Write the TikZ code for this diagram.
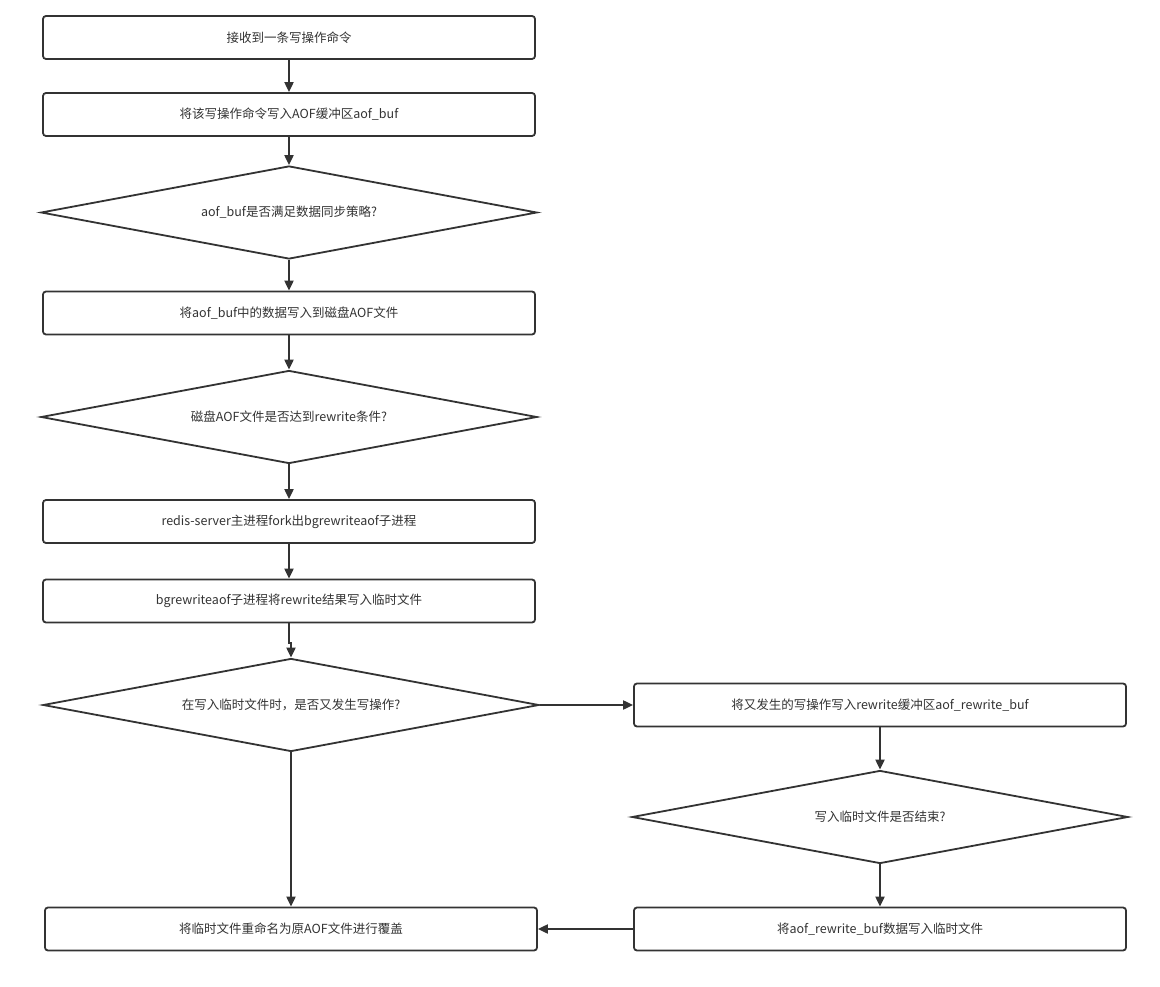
\documentclass[tikz,border=0pt]{standalone}
\usepackage{fontspec}
\setmainfont{Noto Sans CJK SC}
\usetikzlibrary{shapes.geometric,arrows.meta}
\definecolor{ln}{HTML}{333333}
\definecolor{tx}{HTML}{333333}
\tikzset{
  box/.style={draw=ln, line width=1.8pt, rounded corners=3pt, fill=white,
    minimum width=492pt, minimum height=43pt, inner sep=0pt, text=tx,
    font=\fontsize{12.5}{15}\selectfont},
  dia/.style={draw=ln, line width=1.8pt, diamond, shape aspect=5.33, fill=white,
    minimum width=496pt, minimum height=93pt, inner sep=0pt, text=tx,
    font=\fontsize{12.5}{15}\selectfont},
  arr/.style={draw=ln, line width=2pt, -{Triangle[length=10pt,width=9pt]}},
}
\begin{document}
\begin{tikzpicture}[x=1pt,y=-1pt]
\path[use as bounding box, fill=white] (0,0) rectangle (1160,987);
\node[box] (b1) at (289,37.5) {接收到一条写操作命令};
\node[box] (b2) at (289,114.5) {将该写操作命令写入AOF缓冲区aof\_buf};
\node[dia] (d1) at (289,212.5) {aof\_buf是否满足数据同步策略?};
\node[box] (b3) at (289,313) {将aof\_buf中的数据写入到磁盘AOF文件};
\node[dia] (d2) at (289,417) {磁盘AOF文件是否达到rewrite条件?};
\node[box] (b4) at (289,521.5) {redis-server主进程fork出bgrewriteaof子进程};
\node[box] (b5) at (289,601) {bgrewriteaof子进程将rewrite结果写入临时文件};
\node[dia] (d3) at (291,705) {在写入临时文件时，是否又发生写操作?};
\node[box] (b6) at (880,705) {将又发生的写操作写入rewrite缓冲区aof\_rewrite\_buf};
\node[dia] (d4) at (880,817) {写入临时文件是否结束?};
\node[box] (b7) at (880,929) {将aof\_rewrite\_buf数据写入临时文件};
\node[box] (b8) at (291,929) {将临时文件重命名为原AOF文件进行覆盖};
\coordinate (j1) at (289,643);
\draw[arr] (b1) -- (b2);
\draw[arr] (b2) -- (d1);
\draw[arr] (d1) -- (b3);
\draw[arr] (b3) -- (d2);
\draw[arr] (d2) -- (b4);
\draw[arr] (b4) -- (b5);
\draw[arr] (b5.south) -- (j1) -| (d3.north);
\draw[arr] (d3.east) -- (b6.west);
\draw[arr] (b6) -- (d4);
\draw[arr] (d4) -- (b7);
\draw[arr] (b7.west) -- (b8.east);
\draw[arr] (d3.south) -- (b8.north);
\end{tikzpicture}
\end{document}
